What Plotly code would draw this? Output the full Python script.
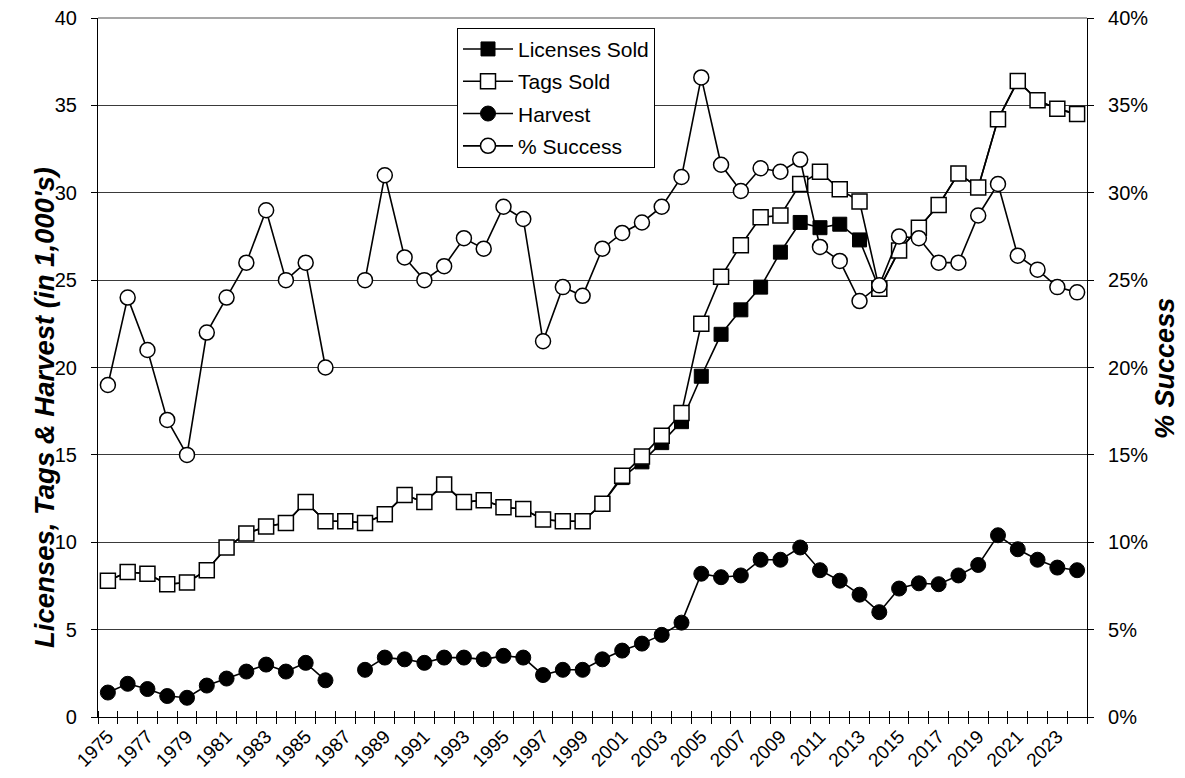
import plotly.graph_objects as go

years = list(range(1975, 2025))

licenses = [7.8, 8.3, 8.2, 7.6, 7.7, 8.4, 9.7, 10.5, 10.9, 11.1,
            12.3, 11.2, 11.2, 11.1, 11.6, 12.7, 12.3, 13.3, 12.3, 12.4,
            12.0, 11.9, 11.3, 11.2, 11.2, 12.2, 13.7, 14.6, 15.7, 16.9,
            19.5, 21.9, 23.3, 24.6, 26.6, 28.3, 28.0, 28.2, 27.3, 24.5,
            26.7, 28.0, 29.3, 31.1, 30.3, 34.2, 36.4, 35.3, 34.8, 34.5]

tags = [7.8, 8.3, 8.2, 7.6, 7.7, 8.4, 9.7, 10.5, 10.9, 11.1,
        12.3, 11.2, 11.2, 11.1, 11.6, 12.7, 12.3, 13.3, 12.3, 12.4,
        12.0, 11.9, 11.3, 11.2, 11.2, 12.2, 13.8, 14.9, 16.1, 17.4,
        22.5, 25.2, 27.0, 28.6, 28.7, 30.5, 31.2, 30.2, 29.5, 24.5,
        26.7, 28.0, 29.3, 31.1, 30.3, 34.2, 36.4, 35.3, 34.8, 34.5]

harvest = [1.4, 1.9, 1.6, 1.2, 1.1, 1.8, 2.2, 2.6, 3.0, 2.6,
           3.1, 2.1, None, 2.7, 3.4, 3.3, 3.1, 3.4, 3.4, 3.3,
           3.5, 3.4, 2.4, 2.7, 2.7, 3.3, 3.8, 4.2, 4.7, 5.4,
           8.2, 8.0, 8.1, 9.0, 9.0, 9.7, 8.4, 7.8, 7.0, 6.0,
           7.35, 7.65, 7.6, 8.1, 8.7, 10.4, 9.6, 9.0, 8.55, 8.4]

success = [19.0, 24.0, 21.0, 17.0, 15.0, 22.0, 24.0, 26.0, 29.0, 25.0,
           26.0, 20.0, None, 25.0, 31.0, 26.3, 25.0, 25.8, 27.4, 26.8,
           29.2, 28.5, 21.5, 24.6, 24.1, 26.8, 27.7, 28.3, 29.2, 30.9,
           36.6, 31.6, 30.1, 31.4, 31.2, 31.9, 26.9, 26.1, 23.8, 24.7,
           27.5, 27.4, 26.0, 26.0, 28.7, 30.5, 26.4, 25.6, 24.6, 24.3]

xlabels = list(range(1975, 2025, 2))
ylabels = list(range(0, 45, 5))

FONT = "Arial, Liberation Sans, sans-serif"
LW = 1.6

fig = go.Figure()
fig.add_trace(go.Scatter(
    x=years, y=licenses, name="Licenses Sold", mode="lines+markers",
    line=dict(color="black", width=LW),
    marker=dict(symbol="square", size=14, color="black", line=dict(color="black", width=1)),
    legendgroup="a"))
fig.add_trace(go.Scatter(
    x=years, y=tags, name="Tags Sold", mode="lines+markers",
    line=dict(color="black", width=LW),
    marker=dict(symbol="square", size=15, color="white", line=dict(color="black", width=1.5)),
    legendgroup="b"))
fig.add_trace(go.Scatter(
    x=years, y=harvest, name="Harvest", mode="lines+markers", connectgaps=False,
    line=dict(color="black", width=LW),
    marker=dict(symbol="circle", size=15, color="black", line=dict(color="black", width=1)),
    legendgroup="c"))
fig.add_trace(go.Scatter(
    x=years, y=success, name="% Success", mode="lines+markers", connectgaps=False,
    yaxis="y2",
    line=dict(color="black", width=LW),
    marker=dict(symbol="circle", size=15, color="white", line=dict(color="black", width=1.5)),
    legendgroup="d"))
# helper (empty) trace so the overlay x-axis carrying the inner half of the crossing ticks is drawn
fig.add_trace(go.Scatter(x=[None], y=[None], xaxis="x2", yaxis="y",
                         showlegend=False, hoverinfo="skip", mode="lines"))

fig.update_layout(
    width=1185, height=778,
    margin=dict(l=90, r=106, t=10, b=69, autoexpand=False),
    paper_bgcolor="white", plot_bgcolor="white",
    font=dict(family=FONT, color="black", size=20),
    showlegend=True,
    legend=dict(x=0.363, y=0.986, xanchor="left", yanchor="top",
                bgcolor="white", bordercolor="black", borderwidth=1,
                font=dict(size=21), tracegroupgap=2, itemwidth=50),
    xaxis=dict(
        range=[1974.5, 2024.5], tickmode="array", tickvals=xlabels,
        ticktext=[str(v) for v in xlabels], tickangle=-45,
        tickfont=dict(size=19), ticks="", showgrid=False, automargin=False,
        showline=True, linecolor="black", linewidth=1.2, zeroline=False,
        ticklabeloverflow="allow",
        minor=dict(tickmode="linear", tick0=1974.5, dtick=1, ticks="outside",
                   ticklen=6, tickcolor="black", tickwidth=1, showgrid=False),
    ),
    xaxis2=dict(
        range=[1974.5, 2024.5], overlaying="x", side="bottom", anchor="y",
        showticklabels=False, ticks="", showgrid=False, showline=False,
        zeroline=False, automargin=False, tickmode="array", tickvals=xlabels,
        minor=dict(tickmode="linear", tick0=1974.5, dtick=1, ticks="inside",
                   ticklen=6, tickcolor="black", tickwidth=1, showgrid=False),
    ),
    yaxis=dict(
        range=[0, 40.0001], tickmode="array", tickvals=ylabels,
        ticktext=[str(v) for v in ylabels],
        showgrid=True, gridcolor="#3a3a3a",
        gridwidth=1, showline=True, linecolor="black", linewidth=1.2,
        ticks="outside", ticklen=6, tickcolor="black", zeroline=False,
        tickfont=dict(size=20), ticklabelstandoff=10, automargin=False,
        ticklabeloverflow="allow",
    ),
    yaxis2=dict(
        range=[0, 40.0001], tickmode="array", tickvals=ylabels,
        ticktext=[f"{v}%" for v in ylabels], overlaying="y", side="right",
        showgrid=False, showline=True, linecolor="black", linewidth=1.2,
        ticks="outside", ticklen=6, tickcolor="black", zeroline=False,
        tickfont=dict(size=20), ticklabelstandoff=10, automargin=False,
        ticklabeloverflow="allow",
    ),
    shapes=[
        dict(type="line", xref="paper", yref="paper", x0=0, x1=1, y0=1, y1=1,
             line=dict(color="#8a8a8a", width=1.5), layer="below"),
    ],
    annotations=[
        dict(text="<b><i>Licenses, Tags & Harvest (in 1,000's)</i></b>",
             xref="paper", yref="paper", x=-0.0536, y=0.4435, textangle=-90,
             showarrow=False, font=dict(size=27.5), xanchor="center", yanchor="middle"),
        dict(text="<b><i>% Success</i></b>",
             xref="paper", yref="paper", x=1.0789, y=0.498, textangle=-90,
             showarrow=False, font=dict(size=27), xanchor="center", yanchor="middle"),
    ],
)

fig.write_html("out.html")
